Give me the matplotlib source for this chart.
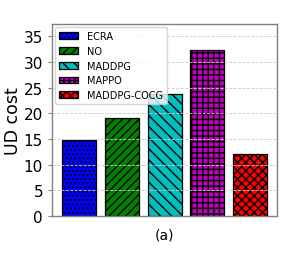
import matplotlib
matplotlib.use('Agg')
import matplotlib.pyplot as plt

methods = ['ECRA', 'NO', 'MADDPG', 'MAPPO', 'MADDPG-COCG']
ud_cost = [14.9, 19.0, 23.7, 32.4, 12.1]
colors = ['blue', 'green', 'c', 'm', 'red']
hatches = ['....', '////', '\\\\\\', '+++', 'xxxx']

plt.rcParams['hatch.linewidth'] = 1.0

fig = plt.figure(figsize=(2.91, 2.55), dpi=100)
ax = fig.add_axes([0.179, 0.149, 0.773, 0.753])

for i in range(len(methods)):
    ax.bar(i, ud_cost[i], width=0.8, color=colors[i], hatch=hatches[i],
           edgecolor='black', linewidth=0.9, label=methods[i], zorder=1)

ax.set_ylim(0, 37.4)
ax.set_yticks(range(0, 36, 5))
ax.set_xticks([])
ax.tick_params(axis='y', labelsize=11, length=3, width=0.8, color='#808080')
ax.set_ylabel('UD cost', fontsize=12.5, labelpad=1)
ax.set_xlabel('(a)', fontsize=10, labelpad=8)
ax.grid(axis='y', linestyle='--', color='#cccccc', linewidth=0.6, zorder=3)
ax.set_axisbelow(False)
for s in ax.spines.values():
    s.set_color('#808080')
    s.set_linewidth(1.0)

ax.legend(loc='upper left', fontsize=7, handlelength=2.0, handleheight=0.7,
          borderaxespad=0.3, labelspacing=0.5, handletextpad=0.9, framealpha=0.8)

fig.savefig('out.png', dpi=100)
